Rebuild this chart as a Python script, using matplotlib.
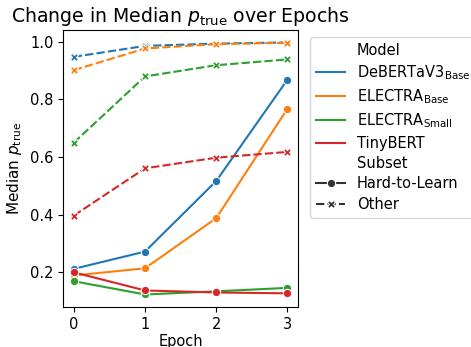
import numpy as np
import pandas as pd
import seaborn as sns
import matplotlib.pyplot as plt

# data
epochs = [0, 1, 2, 3]
models = [r"DeBERTaV3$_{\mathrm{Base}}$", r"ELECTRA$_{\mathrm{Base}}$",
          r"ELECTRA$_{\mathrm{Small}}$", "TinyBERT"]

hard_deberta = [0.212, 0.272, 0.517, 0.869]
hard_electra_base = [0.189, 0.214, 0.388, 0.768]
hard_electra_small = [0.169, 0.123, 0.134, 0.146]
hard_tinybert = [0.200, 0.137, 0.130, 0.127]

other_deberta = [0.948, 0.986, 0.994, 0.998]
other_electra_base = [0.902, 0.977, 0.992, 0.997]
other_electra_small = [0.650, 0.880, 0.919, 0.939]
other_tinybert = [0.397, 0.561, 0.598, 0.618]

hard = [hard_deberta, hard_electra_base, hard_electra_small, hard_tinybert]
other = [other_deberta, other_electra_base, other_electra_small, other_tinybert]

rows = []
for subset, vals in [("Hard-to-Learn", hard), ("Other", other)]:
    for m, series in zip(models, vals):
        for e, v in zip(epochs, series):
            rows.append({"Epoch": e, "Median": v, "Model": m, "Subset": subset})
df = pd.DataFrame(rows)

plt.rcParams["font.size"] = 10.5
plt.rcParams["xtick.labelsize"] = 10.5
plt.rcParams["ytick.labelsize"] = 10.5

fig, ax = plt.subplots(figsize=(4.71, 3.47), dpi=100)
sns.lineplot(data=df, x="Epoch", y="Median", hue="Model", style="Subset",
             markers=True, markersize=6, ax=ax)

ax.set_title(r"Change in Median $p_{\mathrm{true}}$ over Epochs", fontsize=13.6)
ax.set_ylabel(r"Median $p_{\mathrm{true}}$", fontsize=11)
ax.set_xlabel("Epoch", fontsize=10.5, labelpad=1.5)
ax.set_xticks(epochs)
ax.legend(loc="upper left", bbox_to_anchor=(1.02, 1.0), fontsize=10.5,
          labelspacing=0.37)

fig.subplots_adjust(left=0.134, right=0.633, top=0.914, bottom=0.115)
fig.savefig("out.png", dpi=100)
